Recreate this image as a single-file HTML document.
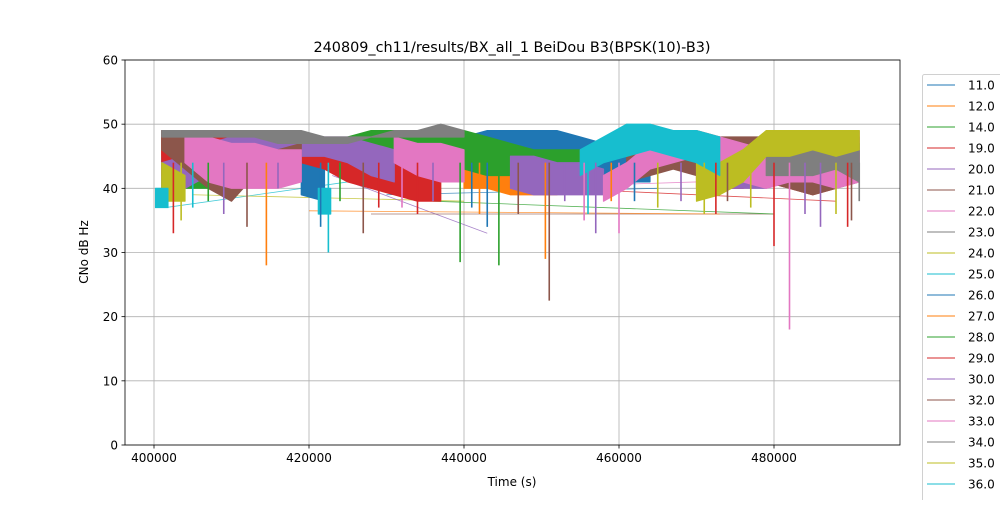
<!DOCTYPE html>
<html><head><meta charset="utf-8"><style>
body{margin:0;background:#fff;width:1000px;height:500px;overflow:hidden;font-family:"Liberation Sans","DejaVu Sans",sans-serif}
svg text{font-family:"DejaVu Sans","Liberation Sans",sans-serif}
</style></head><body>
<svg id="chart" width="1000" height="500">
<rect x="0" y="0" width="1000" height="500" fill="#fff"/>
<g id="grid"></g><g id="marks"></g><g id="axes"></g><g id="legend"></g>
</svg>
<script>
const n=null;
const times=[401,404,407,410,413,416,419,422,425,428,431,434,437,440,443,446,449,452,455,458,461,464,467,470,473,476,479,482,485,488,491];
const xTicks=[400000,420000,440000,460000,480000];
const yTicks=[0,10,20,30,40,50,60];
const names=["11.0","12.0","14.0","19.0","20.0","21.0","22.0","23.0","24.0","25.0","26.0","27.0","28.0","29.0","30.0","32.0","33.0","34.0","35.0","36.0","37.0"];
const colors=["#1f77b4","#ff7f0e","#2ca02c","#d62728","#9467bd","#8c564b","#e377c2","#7f7f7f","#bcbd22","#17becf"];
const s11Hi=[46,46,45,n,n,n,44,43,n,n,45,46,47,48,49,49,49,49,48,47,46,45,n,n,n,n,n,n,n,n,n];
const s11Lo=[40,41,41,n,n,n,39,38,n,n,40,41,41,43,45,45,46,45,43,42,41,41,n,n,n,n,n,n,n,n,n];
const s12Hi=[48,48,48,47,46,45,n,n,n,n,n,n,n,44,44,44,43,44,n,n,48,49,48,49,48,n,n,n,n,n,n];
const s12Lo=[45,45,45,44,41,41,n,n,n,n,n,n,n,40,40,39,39,39,n,n,45,46,45,46,46,n,n,n,n,n,n];
const s14Hi=[n,46,47,46,n,n,n,n,48,49,49,49,49,49,48,47,46,46,46,n,n,n,n,n,n,n,n,n,n,n,n];
const s14Lo=[n,40,40,40,n,n,n,n,42,43,45,46,45,43,42,42,43,43,42,n,n,n,n,n,n,n,n,n,n,n,n];
const s19Hi=[49,49,49,49,49,49,48,47,46,45,44,42,42,n,n,n,n,n,n,n,n,n,n,46,47,47,48,48,48,49,n];
const s19Lo=[42,44,45,45,45,45,44,43,41,40,39,38,38,n,n,n,n,n,n,n,n,n,n,40,40,40,41,40,39,40,n];
const s20Hi=[44,45,47,48,48,48,48,48,48,47,46,n,n,n,n,45,45,44,44,43,n,n,n,n,46,46,45,47,47,n,n];
const s20Lo=[39,40,42,44,45,45,45,45,44,42,41,n,n,n,n,40,39,39,39,39,n,n,n,n,40,40,40,41,40,n,n];
const s21Hi=[49,48,46,44,46,46,47,n,n,n,n,n,n,n,n,n,n,n,n,n,46,47,48,48,48,48,48,47,47,48,48];
const s21Lo=[46,43,40,38,42,42,43,n,n,n,n,n,n,n,n,n,n,n,n,n,41,42,43,42,41,41,41,40,39,40,41];
const s22Hi=[n,48,48,47,47,46,46,n,n,n,48,47,47,46,n,n,n,n,n,42,44,47,48,49,48,47,46,47,48,48,49];
const s22Lo=[n,44,41,40,40,40,41,n,n,n,44,42,41,41,n,n,n,n,n,38,40,43,44,45,43,41,40,41,41,40,41];
const s23Hi=[49,49,49,49,49,49,49,48,48,48,49,49,50,49,n,n,n,n,n,n,n,n,n,n,n,n,47,48,48,48,47];
const s23Lo=[48,48,48,48,48,47,47,47,47,48,48,48,48,48,n,n,n,n,n,n,n,n,n,n,n,n,42,42,42,43,41];
const s24Hi=[44,42,n,n,n,n,n,n,n,n,n,n,n,n,n,n,n,n,n,n,n,n,n,44,44,46,49,49,49,49,49];
const s24Lo=[38,38,n,n,n,n,n,n,n,n,n,n,n,n,n,n,n,n,n,n,n,n,n,38,39,41,45,45,46,45,46];
const s25Hi=[40,n,n,n,n,n,n,40,n,n,n,n,n,n,n,n,n,n,46,48,50,50,49,49,48,n,n,n,n,n,n];
const s25Lo=[37,n,n,n,n,n,n,36,n,n,n,n,n,n,n,n,n,n,42,44,45,46,45,44,42,n,n,n,n,n,n];
const bandHi=[s11Hi,s12Hi,s14Hi,s19Hi,s20Hi,s21Hi,s22Hi,s23Hi,s24Hi,s25Hi];
const bandLo=[s11Lo,s12Lo,s14Lo,s19Lo,s20Lo,s21Lo,s22Lo,s23Lo,s24Lo,s25Lo];
const dipT=[402.5,403.5,405,407,409,412,414.5,416,421.5,422.5,424,427,429,432,434,436,439.5,441,442,443,444.5,447,450.5,451,453,455.5,456,457,459,460,462,465,468,471,472.5,474,477,480,482,484,486,488,489.5,490,491];
const dipV=[33,35,37,38,36,34,28,40,34,30,38,33,37,37,36,38,28.5,37,36,34,28,36,29,22.5,38,35,36,33,38,33,38,37,38,36,36,38,37,31,18,36,34,36,34,35,38];
const dipC=[3,8,9,2,4,5,1,4,0,9,2,5,3,6,3,4,2,0,1,0,2,5,1,5,4,6,9,4,1,6,0,8,4,8,3,5,8,3,6,4,4,8,3,5,7];
const connT1=[401.5,405,423,428,420,452,444,436,430];
const connV1=[37,39,42,36,36.5,40,40,38,39];
const connT2=[425,440,443,480,473,488,470,480,465];
const connV2=[41,38,33,36,36,38,41,36,40];
const connC=[9,8,4,5,1,3,6,2,0];

const L=125,R=900,T=60,B=445,XMIN=396258,XMAX=496258;
const xs=t=>L+(t-XMIN)/(XMAX-XMIN)*(R-L);
const ys=v=>B-v/60*(B-T);
const NS="http://www.w3.org/2000/svg";
function mk(tag,attrs,parent){const e=document.createElementNS(NS,tag);for(const k in attrs)e.setAttribute(k,attrs[k]);parent.appendChild(e);return e;}
const grid=document.getElementById('grid'),marks=document.getElementById('marks'),axes=document.getElementById('axes'),leg=document.getElementById('legend');
xTicks.forEach(t=>{const l=mk('line',{x1:xs(t),x2:xs(t),y1:T,y2:B,stroke:'#b0b0b0','stroke-width':0.8},grid);


const tk=mk('line',{x1:xs(t),x2:xs(t),y1:B,y2:B+3.5,stroke:'#000','stroke-width':0.8},axes);


const tx=mk('text',{x:xs(t),y:B+17,'text-anchor':'middle','font-size':12},axes);tx.textContent=t;

});
yTicks.forEach(v=>{const l=mk('line',{x1:L,x2:R,y1:ys(v),y2:ys(v),stroke:'#b0b0b0','stroke-width':0.8},grid);


const tk=mk('line',{x1:L-3.5,x2:L,y1:ys(v),y2:ys(v),stroke:'#000','stroke-width':0.8},axes);


const tx=mk('text',{x:L-7,y:ys(v)+4.5,'text-anchor':'end','font-size':12},axes);tx.textContent=v;

});
connT1.forEach((t,i)=>{const l=mk('line',{x1:xs(t*1000),y1:ys(connV1[i]),x2:xs(connT2[i]*1000),y2:ys(connV2[i]),stroke:colors[connC[i]],'stroke-width':0.8,opacity:0.8},marks);

});
bandHi.forEach((hi,si)=>{const lo=bandLo[si];let seg=[];
const flush=()=>{if(!seg.length)return;let pts=[];
if(seg.length===1){const i=seg[0];pts=[[xs(times[i]*1000-800),ys(hi[i])],[xs(times[i]*1000+800),ys(hi[i])],[xs(times[i]*1000+800),ys(lo[i])],[xs(times[i]*1000-800),ys(lo[i])]];}
else{seg.forEach(i=>pts.push([xs(times[i]*1000),ys(hi[i])]));for(let k=seg.length-1;k>=0;k--){const i=seg[k];pts.push([xs(times[i]*1000),ys(lo[i])]);}}
const p=mk('polygon',{points:pts.map(q=>q.join(',')).join(' '),fill:colors[si],stroke:colors[si],'stroke-width':1.2,'stroke-linejoin':'round'},marks);


seg=[];};
hi.forEach((v,i)=>{if(v===null)flush();else seg.push(i);});flush();});
dipT.forEach((t,i)=>{const l=mk('line',{x1:xs(t*1000),x2:xs(t*1000),y1:ys(44),y2:ys(dipV[i]),stroke:colors[dipC[i]],'stroke-width':1.6},marks);

});
const fr=mk('rect',{x:L,y:T,width:R-L,height:B-T,fill:'none',stroke:'#000','stroke-width':0.8},axes);


const ttl=mk('text',{x:512,y:52,'text-anchor':'middle','font-size':14.4},axes);ttl.textContent='240809_ch11/results/BX_all_1 BeiDou B3(BPSK(10)-B3)';


const xl=mk('text',{x:512,y:486,'text-anchor':'middle','font-size':12},axes);xl.textContent='Time (s)';


const yl=mk('text',{x:88,y:252,'text-anchor':'middle','font-size':12,transform:'rotate(-90 88 252)'},axes);yl.textContent='CNo dB Hz';


const lb=mk('rect',{x:922.5,y:74.5,width:90,height:440,fill:'#fff',stroke:'#d0d0d0','stroke-width':1,rx:2},leg);


names.forEach((nm,i)=>{const y=85+i*21;const g=mk('g',{},leg);


mk('line',{x1:927,x2:955,y1:y,y2:y,stroke:colors[i%10],'stroke-width':1},g);
const t=mk('text',{x:968,y:y+4.5,'font-size':12},g);t.textContent=nm;});
</script>
</body></html>
